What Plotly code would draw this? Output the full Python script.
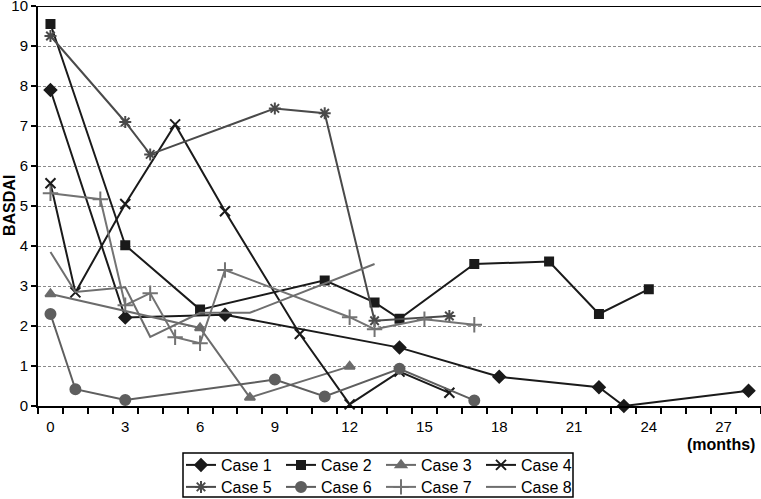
import plotly.graph_objects as go

# BASDAI score per case over follow-up months
case1_x = [0, 3, 7, 14, 18, 22, 23, 28]
case1_y = [7.9, 2.21, 2.28, 1.46, 0.73, 0.47, 0.0, 0.38]
case2_x = [0, 3, 6, 11, 13, 14, 17, 20, 22, 24]
case2_y = [9.55, 4.02, 2.41, 3.14, 2.59, 2.18, 3.55, 3.61, 2.3, 2.92]
case3_x = [0, 6, 8, 12]
case3_y = [2.8, 1.95, 0.21, 0.99]
case4_x = [0, 1, 3, 5, 7, 10, 12, 14, 16]
case4_y = [5.57, 2.84, 5.05, 7.04, 4.87, 1.8, 0.04, 0.86, 0.33]
case5_x = [0, 3, 4, 9, 11, 13, 16]
case5_y = [9.25, 7.1, 6.29, 7.44, 7.32, 2.13, 2.25]
case6_x = [0, 1, 3, 9, 11, 14, 17]
case6_y = [2.3, 0.42, 0.15, 0.66, 0.24, 0.93, 0.14]
case7_x = [0, 2, 3, 4, 5, 6, 7, 12, 13, 15, 17]
case7_y = [5.32, 5.17, 2.52, 2.82, 1.72, 1.57, 3.4, 2.22, 1.92, 2.17, 2.03]
case8_x = [0, 1, 3, 4, 6, 8, 13]
case8_y = [3.85, 2.85, 2.97, 1.73, 2.33, 2.33, 3.55]

month_ticks = [0, 3, 6, 9, 12, 15, 18, 21, 24, 27]

series = [
    ("Case 1", case1_x, case1_y, "#1a1a1a", "diamond", 9, "legend"),
    ("Case 2", case2_x, case2_y, "#1a1a1a", "square", 8, "legend"),
    ("Case 3", case3_x, case3_y, "#6b6b6b", "triangle-up", 9, "legend"),
    ("Case 4", case4_x, case4_y, "#1a1a1a", "x-thin-open", 10, "legend"),
    ("Case 5", case5_x, case5_y, "#4a4a4a", "asterisk-open", 10, "legend2"),
    ("Case 6", case6_x, case6_y, "#5e5e5e", "circle", 10, "legend2"),
    ("Case 7", case7_x, case7_y, "#737373", "cross-thin-open", 11, "legend2"),
    ("Case 8", case8_x, case8_y, "#6e6e6e", None, 0, "legend2"),
]

fig = go.Figure()
for name, xs, ys, col, sym, size, leg in series:
    if sym is None:
        fig.add_trace(go.Scatter(x=xs, y=ys, name=name, mode="lines",
                                 line=dict(color=col, width=2), legend=leg,
                                 cliponaxis=False))
    else:
        fig.add_trace(go.Scatter(
            x=xs, y=ys, name=name, mode="lines+markers",
            line=dict(color=col, width=2),
            marker=dict(symbol=sym, size=size, color=col,
                        line=dict(color=col, width=2)),
            legend=leg, cliponaxis=False))

leg_common = dict(orientation="h", entrywidth=55, entrywidthmode="pixels",
                  font=dict(size=16, color="black"), bgcolor="rgba(0,0,0,0)",
                  borderwidth=0, xref="container", yref="container",
                  xanchor="left", yanchor="top", itemwidth=30)

fig.update_layout(
    width=761, height=499,
    margin=dict(l=38, r=0, t=6, b=93),
    paper_bgcolor="white", plot_bgcolor="white",
    font=dict(family="Liberation Sans, Arial, sans-serif", color="black"),
    legend=dict(x=181 / 761, y=1 - 448 / 499, **leg_common),
    legend2=dict(x=181 / 761, y=1 - 470 / 499, **leg_common),
    xaxis=dict(range=[-0.5, 28.5], tickvals=month_ticks, automargin=False,
               ticks="outside", ticklen=6, tickcolor="rgba(0,0,0,0)",
               showgrid=False, zeroline=False,
               showline=True, linecolor="black", linewidth=2,
               tickfont=dict(size=15), ticklabeloverflow="allow",
               minor=dict(ticks="outside", ticklen=6, tickcolor="black",
                          tickwidth=1.5, tick0=-0.5, dtick=1, showgrid=False)),
    yaxis=dict(range=[0, 10], dtick=1, ticks="outside", ticklen=5,
               tickcolor="black", tickwidth=1.5, automargin=False,
               showline=True, linecolor="black", linewidth=2,
               showgrid=True, gridcolor="#8a8a8a", gridwidth=1,
               griddash="3px,2px", zeroline=False,
               tickfont=dict(size=15), ticklabeloverflow="allow"),
    showlegend=True,
)

# solid top border line at 10
fig.add_shape(type="line", xref="paper", yref="y", x0=0, x1=1, y0=10, y1=10,
              line=dict(color="black", width=2))

# legend frame around both legend rows
fig.add_shape(type="rect", xref="paper", yref="paper",
              x0=(183 - 38) / 723, x1=(573 - 38) / 723,
              y0=(406 - 497) / 400, y1=(406 - 453) / 400,
              line=dict(color="black", width=1.5))

fig.add_annotation(text="<b>BASDAI</b>", textangle=-90, xref="paper", yref="paper",
                   x=(9 - 38) / 723, y=(406 - 205) / 400, showarrow=False,
                   xanchor="center", yanchor="middle", font=dict(size=16))
fig.add_annotation(text="<b>(months)</b>", xref="paper", yref="paper",
                   x=(757 - 38) / 723, y=(406 - 445) / 400, xanchor="right",
                   yanchor="middle", showarrow=False, font=dict(size=16))

fig.write_html("out.html", config={"displayModeBar": False},
               post_script="document.body.style.margin='0';")
